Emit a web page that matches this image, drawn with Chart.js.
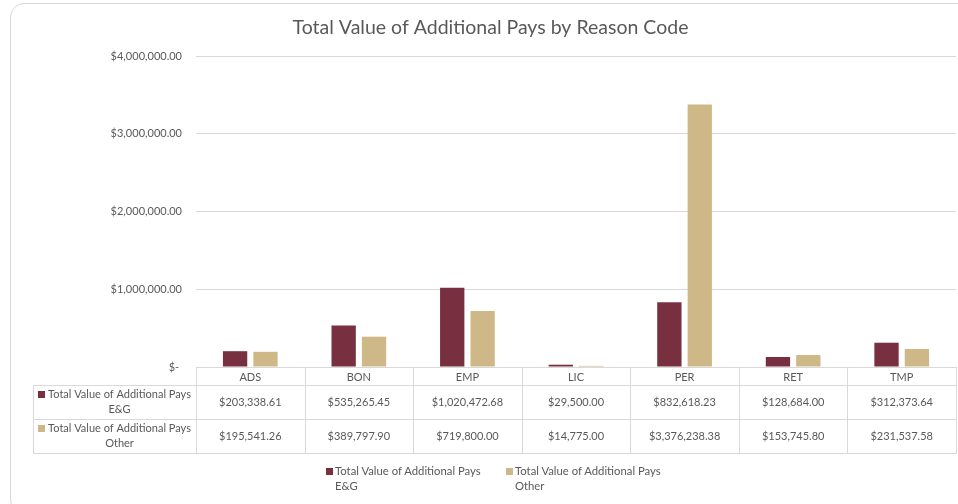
<!DOCTYPE html>
<html><head><meta charset="utf-8">
<script src="https://cdn.jsdelivr.net/npm/chart.js@4/dist/chart.umd.min.js"></script>
<style>
html,body{margin:0;padding:0;background:#fff;}
#wrap{position:relative;width:958px;height:504px;overflow:hidden;}
#frame{position:absolute;left:10px;top:3px;width:990px;height:510px;border:1px solid #d9d9d9;border-radius:14px;box-sizing:border-box;}
canvas{position:absolute;left:0;top:0;}
.lg{position:absolute;top:463px;font:11.3px Lato, sans-serif;line-height:15px;color:#595959;white-space:nowrap;}
.lg i{position:absolute;left:-9px;top:5px;width:7px;height:7px;}
</style></head>
<body><div id="wrap"><div id="frame"></div><canvas id="c" width="958" height="504"></canvas><div id="legend"></div></div>
<script>
const categories = ['ADS','BON','EMP','LIC','PER','RET','TMP'];
const seriesNames = ['Total Value of Additional Pays E&G','Total Value of Additional Pays Other'];
const egValues = [203338.61, 535265.45, 1020472.68, 29500.00, 832618.23, 128684.00, 312373.64];
const otherValues = [195541.26, 389797.90, 719800.00, 14775.00, 3376238.38, 153745.80, 231537.58];
const yTicks = [0, 1000000, 2000000, 3000000, 4000000];
const colors = ['#782F40', '#CEB888'];
const FONT = 'Lato';
const TXT = '#595959';

function money(v){ return v === 0 ? '$- ' : '$' + v.toLocaleString('en-US',{minimumFractionDigits:2, maximumFractionDigits:2}); }
function splitLabel(s){ const i = s.lastIndexOf(' '); return [s.slice(0,i), s.slice(i+1)]; }

const tablePlugin = {
  id: 'dataTable',
  afterDraw(chart){
    const ctx = chart.ctx, xs = chart.scales.x;
    const n = categories.length;
    const left = xs.left, right = xs.right, w = (right-left)/n;
    const top = Math.round(xs.top), hdr = 18, rowH = 34, labelLeft = 33;
    const y1 = top + hdr, y2 = y1 + rowH, y3 = y2 + rowH;
    ctx.save();
    ctx.strokeStyle = '#d9d9d9'; ctx.lineWidth = 1;
    ctx.beginPath();
    [y1, y2, y3].forEach(y => { ctx.moveTo(labelLeft, y+0.5); ctx.lineTo(right, y+0.5); });
    for (let i=0;i<=n;i++){ const x = Math.round(left + i*w)+0.5; ctx.moveTo(x, top); ctx.lineTo(x, y3+1); }
    ctx.moveTo(labelLeft+0.5, y1); ctx.lineTo(labelLeft+0.5, y3+1);
    ctx.stroke();
    const rows = [egValues, otherValues];
    ctx.textBaseline = 'middle'; ctx.textAlign = 'center';
    rows.forEach((vals, r) => {
      const rt = y1 + r*rowH;
      ctx.font = '11px ' + FONT;
      ctx.fillStyle = TXT;
      vals.forEach((v, i) => { ctx.fillText(money(v), left + (i+0.5)*w, rt + 17.5); });
      const lines = splitLabel(seriesNames[r]);
      ctx.fillStyle = colors[r];
      ctx.fillRect(labelLeft+5, rt+6, 7, 7);
      ctx.fillStyle = TXT;
      const cx = (labelLeft + 14 + left - 4)/2;
      ctx.fillText(lines[0], cx, rt + 9.5);
      ctx.fillText(lines[1], cx, rt + 24.5);
    });
    ctx.restore();
  }
};

// legend (two-line labels, as in the reference)
const legendLefts = [335, 515];
seriesNames.forEach((name, i) => {
  const d = document.createElement('div');
  d.className = 'lg';
  d.style.left = legendLefts[i] + 'px';
  const sw = document.createElement('i');
  sw.style.background = colors[i];
  d.appendChild(sw);
  splitLabel(name).forEach((t, k) => { if (k) d.appendChild(document.createElement('br')); d.appendChild(document.createTextNode(t)); });
  document.getElementById('legend').appendChild(d);
});

new Chart(document.getElementById('c'), {
  type: 'bar',
  data: {
    labels: categories,
    datasets: [
      { label: seriesNames[0], data: egValues, backgroundColor: colors[0] },
      { label: seriesNames[1], data: otherValues, backgroundColor: colors[1] }
    ]
  },
  options: {
    responsive: false, animation: false, devicePixelRatio: 1,
    datasets: { bar: { categoryPercentage: 0.56, barPercentage: 0.8 } },
    layout: { padding: { left: 25, right: 2, top: 0, bottom: 49 } },
    plugins: {
      tooltip: { enabled: false },
      legend: { display: false },
      title: { display: true, text: 'Total Value of Additional Pays by Reason Code', color: TXT,
               font: { family: FONT, size: 19.5, weight: 'normal', lineHeight: 1.2 }, padding: { top: 16, bottom: 16.6 } }
    },
    scales: {
      x: { grid: { display: false, drawTicks: false }, border: { display: true, color: '#d9d9d9' },
           ticks: { color: TXT, font: { family: FONT, size: 11 }, padding: 3.5 },
           afterFit(s){ s.height = 88; } },
      y: { min: 0, max: 4000000, afterBuildTicks(s){ s.ticks = yTicks.map(v => ({ value: v })); },
           grid: { color: '#d9d9d9', drawTicks: false }, border: { display: false },
           ticks: { color: TXT, font: { family: FONT, size: 11 }, padding: 14, callback: v => money(v) },
           afterFit(s){ s.width = 171; } }
    }
  },
  plugins: [tablePlugin]
});
</script></body></html>
